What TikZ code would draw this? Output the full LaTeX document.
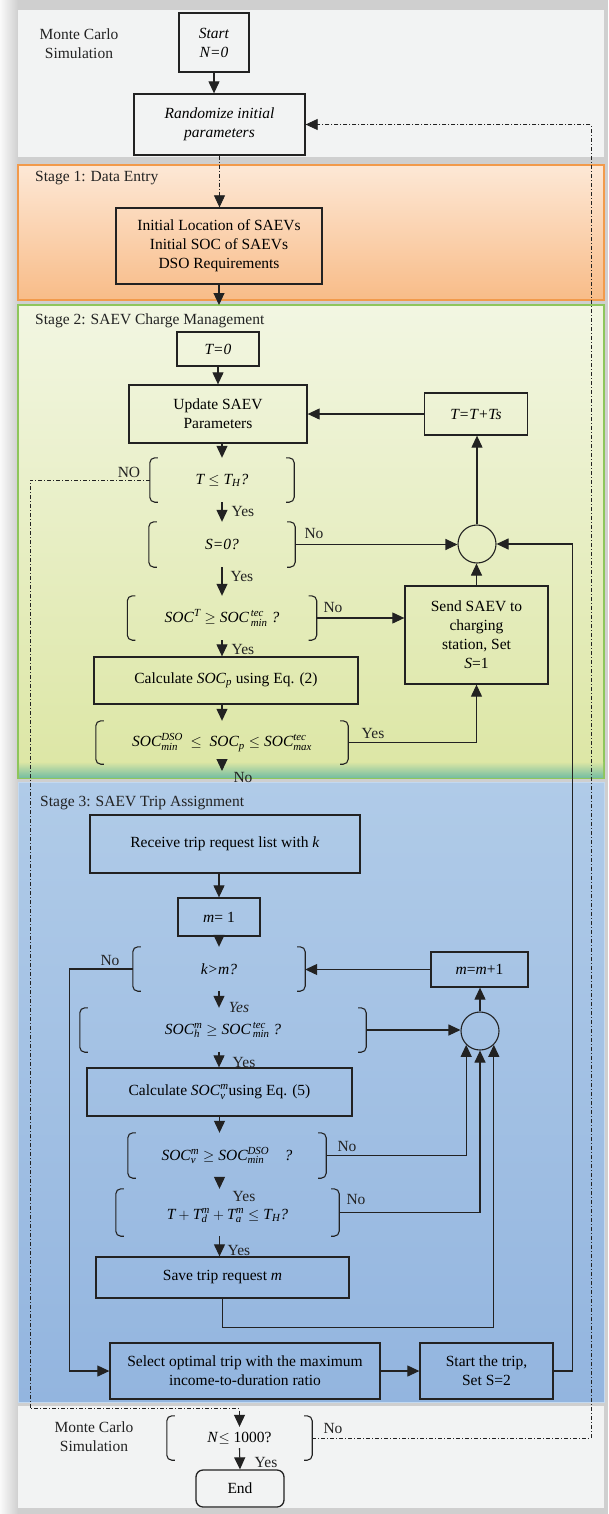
\documentclass[tikz,border=0pt]{standalone}
\usepackage{fontspec}
\setmainfont{Liberation Serif}
\usepackage{amsmath}
\usetikzlibrary{arrows.meta,calc}
\definecolor{bgc}{HTML}{CFCFCF}
\definecolor{pgray}{HTML}{F2F3F3}
\definecolor{or1}{HTML}{FDE8D6}
\definecolor{or2}{HTML}{F8BC88}
\definecolor{orb}{HTML}{F29A4B}
\definecolor{gr1}{HTML}{F2F6E2}
\definecolor{gr2}{HTML}{DCE6A4}
\definecolor{grb}{HTML}{8EC65C}
\definecolor{teal1}{HTML}{79BFA2}
\definecolor{bl1}{HTML}{B0CBE8}
\definecolor{bl2}{HTML}{93B5DF}
\definecolor{blb}{HTML}{C3D9F0}
\definecolor{ink}{HTML}{222222}
\newcommand\vi[1]{\textit{#1}}
\newcommand\brk[1]{%
  \draw[ink, line width=1.1pt, rounded corners=5pt] ([xshift=8pt]#1.north west) -- (#1.north west) -- (#1.south west) -- ([xshift=8pt]#1.south west);
  \draw[ink, line width=1.1pt, rounded corners=5pt] ([xshift=-8pt]#1.north east) -- (#1.north east) -- (#1.south east) -- ([xshift=-8pt]#1.south east);}
\begin{document}
\begin{tikzpicture}[x=1pt,y=-1pt,
  font=\fontsize{15.5}{19}\selectfont,
  box/.style={draw=ink, line width=1.3pt, align=center, inner sep=2pt},
  dec/.style={align=center, inner sep=0pt},
  tip/.style={-{Triangle[length=12pt,width=11pt]}},
  arr/.style={ink, line width=1.1pt, tip},
  dd/.style={ink, line width=0.8pt, dash pattern=on 4pt off 2pt on 1pt off 2pt},
  lbl/.style={inner sep=0pt, text=ink}]
\useasboundingbox (0,0) rectangle (608,1514);
% background and panels
\fill[bgc] (0,0) rectangle (608,1514);
\fill[left color=white!90!bgc, right color=bgc] (0,0) rectangle (18,1514);
\fill[pgray] (18,10) rectangle (604,157);
\draw[orb, line width=1.5pt, top color=or1, bottom color=or2] (18,165) rectangle (604,300);
\draw[grb, line width=1.5pt, top color=gr1, bottom color=gr2] (18,305) rectangle (604,778);
\fill[top color=gr2, bottom color=teal1] (19,762) rectangle (603,777);
\draw[blb, line width=1pt, top color=bl1, bottom color=bl2] (18,782) rectangle (604,1402);
\fill[pgray] (18,1406) rectangle (604,1508);

% panel titles
\node[lbl, align=center] (mc1) at (79,44) {Monte Carlo\\Simulation};
\node[lbl, anchor=west] (st1) at (35,178) {Stage 1: Data Entry};
\node[lbl, anchor=west] (st2) at (35,321) {Stage 2: SAEV Charge Management};
\node[lbl, anchor=west] (st3) at (40,803) {Stage 3: SAEV Trip Assignment};
\node[lbl, align=center] (mc2) at (94,1437) {Monte Carlo\\Simulation};

% nodes
\node[box, minimum width=70pt, minimum height=59pt] (start) at (214,42.5) {\vi{Start}\\\vi{N=0}};
\node[box, minimum width=171pt, minimum height=61pt] (rand) at (219.5,124.5) {\vi{Randomize initial}\\\vi{parameters}};
\node[box, minimum width=206pt, minimum height=76pt] (init) at (219,246) {Initial Location of SAEVs\\Initial SOC of SAEVs\\DSO Requirements};
\coordinate (s2top) at (219,305);

\node[box, minimum width=82pt, minimum height=34pt] (t0) at (218,349) {\vi{T=0}};
\node[box, minimum width=178pt, minimum height=58pt] (upd) at (218,414) {Update SAEV\\Parameters};
\node[box, minimum width=103pt, minimum height=42pt] (tts) at (476,414) {\vi{T=T+Ts}};
\node[dec, minimum width=144pt, minimum height=44pt] (d1) at (222,480) {$\vi{T}\leq\vi{T}_{\vi{H}}$\vi{?}};
\node[dec, minimum width=146pt, minimum height=45pt] (d2) at (222,544.5) {\vi{S=0?}};
\node[draw=ink, line width=1.1pt, circle, minimum size=38pt, inner sep=0pt] (c1) at (477,544) {};
\node[dec, minimum width=189pt, minimum height=44pt] (d3) at (222,618) {$\vi{SOC}^{\vi{T}}\geq\vi{SOC}^{\,\vi{tec}}_{\,\vi{min}}$ \vi{?}};
\node[box, minimum width=143pt, minimum height=98pt] (send) at (476.5,635) {Send SAEV to\\charging\\station, Set\\\vi{S}=1};
\node[box, minimum width=264pt, minimum height=47pt] (calc1) at (226,680.5) {Calculate $\vi{SOC}_{\vi{p}}$ using Eq. (2)};
\node[dec, minimum width=252pt, minimum height=43pt] (d4) at (222,742.5) {$\vi{SOC}^{\vi{DSO}}_{\vi{min}}$\ \ $\leq$\ \ $\vi{SOC}_{\vi{p}}\leq\vi{SOC}^{\vi{tec}}_{\vi{max}}$};
\coordinate (s3top) at (222,771);

\node[box, minimum width=270pt, minimum height=58pt] (recv) at (225,844) {Receive trip request list with \vi{k}};
\node[box, minimum width=82pt, minimum height=38pt] (m1) at (219,917) {\vi{m}= 1};
\node[dec, minimum width=172pt, minimum height=44pt] (d5) at (219,969) {\vi{k>m?}};
\node[box, minimum width=97pt, minimum height=35pt] (mm) at (479.5,969.5) {\vi{m}=\vi{m}+1};
\node[dec, minimum width=286pt, minimum height=44pt] (d6) at (223,1030) {$\vi{SOC}^{\vi{m}}_{\vi{h}}\geq\vi{SOC}^{\,\vi{tec}}_{\,\vi{min}}$ \vi{?}};
\node[draw=ink, line width=1.1pt, circle, minimum size=38pt, inner sep=0pt] (c2) at (480,1031) {};
\node[box, minimum width=265pt, minimum height=48pt] (calc2) at (219.5,1092) {Calculate $\vi{SOC}^{\vi{m}}_{\vi{v}}$using Eq. (5)};
\node[dec, minimum width=198pt, minimum height=45pt] (d7) at (227,1155.5) {$\vi{SOC}^{\vi{m}}_{\vi{v}}\geq\vi{SOC}^{\vi{DSO}}_{\vi{min}}$\quad \vi{?}};
\node[dec, minimum width=223pt, minimum height=47pt] (d8) at (227.5,1212.5) {\\[-2pt]$\vi{T}+\vi{T}^{\vi{m}}_{\vi{d}}+\vi{T}^{\vi{m}}_{\vi{a}}\leq\vi{T}_{\vi{H}}$\vi{?}};
\node[box, minimum width=253pt, minimum height=41pt] (save) at (222.5,1277.5) {Save trip request \vi{m}};
\node[box, minimum width=270pt, minimum height=56pt] (sel) at (245,1371) {Select optimal trip with the maximum\\income-to-duration ratio};
\node[box, minimum width=133pt, minimum height=56pt] (strt) at (486.5,1371) {Start the trip,\\Set S=2};

\node[dec, minimum width=145pt, minimum height=44pt] (d9) at (239.5,1438) {\vi{N}$\leq$ 1000?};
\node[box, rounded corners=7pt, minimum width=88pt, minimum height=37pt] (end) at (240,1488.5) {End};

% brackets
\brk{d1}\brk{d2}\brk{d3}\brk{d4}\brk{d5}\brk{d6}\brk{d7}\brk{d8}\brk{d9}

% connectors: top
\draw[arr] (start.south) -- (start.south |- rand.north);
\draw[dd, tip] (rand.south) -- (rand.south |- init.north);
\draw[arr] (init.south) -- (init.south |- s2top);
% stage 2
\draw[arr] (t0.south) -- (t0.south |- upd.north);
\draw[arr] (upd.south -| d1.north) -- (d1.north);
\draw[arr] (d1.south) -- (d2.north);
\draw[arr] (d2.south) -- (d3.north);
\draw[arr] (d3.south) -- (d3.south |- calc1.north);
\draw[arr] (calc1.south -| d3.south) -- (d4.north);
\draw[arr] (d4.south) -- (d4.south |- s3top);
\draw[arr] (d2.east) -- (d2.east -| c1.west);
\draw[arr] (d3.east) -- (d3.east -| send.west);
\draw[arr] (send.north) -- (send.north |- c1.south);
\draw[arr] (d4.east) -| (send.south);
\draw[arr] (c1.north) -- (c1.north |- tts.south);
\draw[arr] (tts.west) -- (tts.west -| upd.east);
% stage 3
\draw[arr] (recv.south -| m1.north) -- (m1.north);
\draw[arr] (m1.south) -- (d5.north);
\draw[arr] (d5.south) -- (d5.south |- d6.north);
\draw[arr] (d6.south -| d5.south) -- (d5.south |- calc2.north);
\draw[arr] (calc2.south) -- (calc2.south |- d7.north);
\draw[arr] (d7.south -| calc2.south) -- (calc2.south |- d8.north);
\draw[arr] (d8.south -| calc2.south) -- (calc2.south |- save.north);
\draw[arr] (d6.east) -- (d6.east -| c2.west);
\draw[arr] (d7.east) -| (c2.south west);
\draw[arr] (d8.east) -| (c2.south);
\draw[arr] (save.south) -- ++(0,29) -| (c2.south east);
\draw[arr] (c2.north) -- (c2.north |- mm.south);
\draw[arr] (mm.west) -- (mm.west -| d5.east);
\draw[arr] (d5.west) -- ++(-63,0) |- (sel.west);
\draw[arr] (sel.east) -- (strt.west);
\draw[arr] (strt.east) -- ++(19,0) |- (c1.east);
% monte carlo loops
\coordinate (ll) at (30,900);
\coordinate (rr) at (591,800);
\draw[dd, tip] (d1.west) -| (ll) |- ($(d9.north)+(0,-7)$) -- ([yshift=-11pt]d9.north);
\draw[dd, tip] (d9.east) -| (rr) |- (rand.east);
\draw[arr] ([yshift=12pt]d9.south) -- (end.north);

% labels
\node[lbl] (l1) at (129,472) {NO};
\node[lbl] (l2) at (243,511) {Yes};
\node[lbl] (l3) at (314,533) {No};
\node[lbl] (l4) at (242,576) {Yes};
\node[lbl] (l5) at (333,607) {No};
\node[lbl] (l6) at (243,649) {Yes};
\node[lbl] (l7) at (373,733) {Yes};
\node[lbl] (l8) at (243,777) {No};
\node[lbl] (l9) at (110,960) {No};
\node[lbl] (l10) at (239,1007) {\vi{Yes}};
\node[lbl] (l11) at (244,1062) {Yes};
\node[lbl] (l12) at (347,1146) {No};
\node[lbl] (l13) at (244,1196) {Yes};
\node[lbl] (l14) at (356,1199) {No};
\node[lbl] (l15) at (239,1250) {Yes};
\node[lbl] (l16) at (333,1428) {No};
\node[lbl] (l17) at (266,1462) {Yes};
\end{tikzpicture}
\end{document}
